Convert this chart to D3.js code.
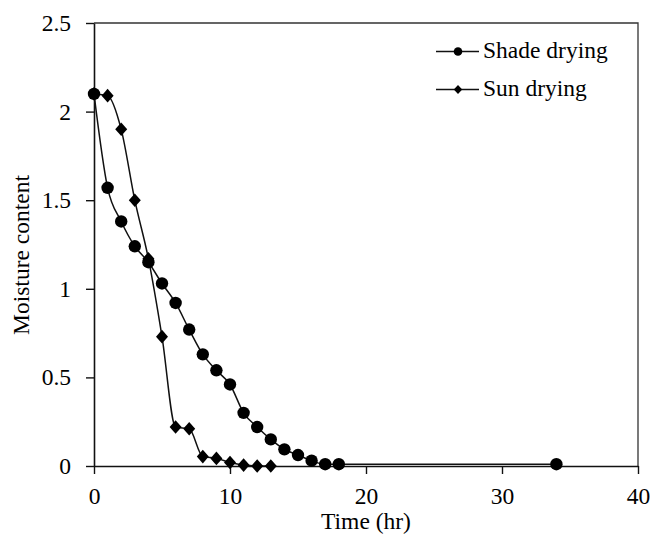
<!DOCTYPE html>
<html>
<head>
<meta charset="utf-8">
<script src="https://cdn.jsdelivr.net/npm/d3@7"></script>
<style>
  html, body { margin: 0; padding: 0; background: #fff; }
  svg { display: block; }
  text { font-family: "Liberation Serif", "Times New Roman", serif; fill: #000; }
</style>
</head>
<body>
<svg id="chart" width="652" height="534"></svg>
<script>
// ---- data ----
const shadeTime = [0, 1, 2, 3, 4, 5, 6, 7, 8, 9, 10, 11, 12, 13, 14, 15, 16, 17, 18, 34];
const shadeMoisture = [2.10, 1.57, 1.38, 1.24, 1.15, 1.03, 0.92, 0.77, 0.63, 0.54, 0.46, 0.30, 0.22, 0.15, 0.094, 0.062, 0.03, 0.01, 0.01, 0.01];
const sunTime = [0, 1, 2, 3, 4, 5, 6, 7, 8, 9, 10, 11, 12, 13];
const sunMoisture = [2.10, 2.09, 1.90, 1.50, 1.17, 0.73, 0.22, 0.21, 0.053, 0.043, 0.02, 0.005, 0.0, 0.0];
const seriesNames = ["Shade drying", "Sun drying"];
const xTicks = [0, 10, 20, 30, 40];
const yTicks = [0, 0.5, 1, 1.5, 2, 2.5];
const xLabel = "Time (hr)";
const yLabel = "Moisture content";

(function () {
// ---- layout ----
const svg = d3.select("#chart");
const mLeft = 94, mRight = 638, mTop = 23, mBottom = 466;
const x = d3.scaleLinear().domain([0, 40]).range([mLeft, mRight]);
const y = d3.scaleLinear().domain([0, 2.5]).range([mBottom, mTop]);
const fontSize = 23.5;

// border (top & right)
svg.append("path")
  .attr("d", `M${mLeft},${mTop}H${mRight}V${mBottom}`)
  .attr("fill", "none").attr("stroke", "#333").attr("stroke-width", 1.3);

// axes
const xAxis = d3.axisBottom(x).tickValues(xTicks).tickSize(8).tickSizeOuter(0).tickPadding(13)
  .tickFormat(d3.format("d"));
const yAxis = d3.axisLeft(y).tickValues(yTicks).tickSize(8).tickSizeOuter(0).tickPadding(15)
  .tickFormat(d => String(d));

const gx = svg.append("g").attr("transform", `translate(0,${mBottom})`).call(xAxis);
const gy = svg.append("g").attr("transform", `translate(${mLeft},0)`).call(yAxis);
[gx, gy].forEach(g => {
  g.select(".domain").attr("stroke", "#111").attr("stroke-width", 1.6);
  g.selectAll(".tick line").attr("stroke", "#111").attr("stroke-width", 1.4);
  g.selectAll(".tick text")
    .style("font-family", '"Liberation Serif", "Times New Roman", serif')
    .style("font-size", fontSize + "px").attr("fill", "#000");
});

// axis titles
svg.append("text").attr("x", (mLeft + mRight) / 2).attr("y", 529)
  .attr("text-anchor", "middle").style("font-size", fontSize + "px").text(xLabel);
svg.append("text").attr("transform", "translate(29,255) rotate(-90)")
  .attr("text-anchor", "middle").style("font-size", fontSize + "px").text(yLabel);

// series
const line = d3.line().x(d => x(d[0])).y(d => y(d[1])).curve(d3.curveMonotoneX);
const shadeData = shadeTime.map((t, i) => [t, shadeMoisture[i]]);
const sunData = sunTime.map((t, i) => [t, sunMoisture[i]]);

const diamond = (cx, cy, w, h) => `M${cx},${cy - h}L${cx + w},${cy}L${cx},${cy + h}L${cx - w},${cy}Z`;

svg.append("path").datum(sunData).attr("d", line)
  .attr("fill", "none").attr("stroke", "#111").attr("stroke-width", 1.5);
svg.append("path").datum(shadeData).attr("d", line)
  .attr("fill", "none").attr("stroke", "#111").attr("stroke-width", 1.5);

svg.append("g").selectAll("path").data(sunData).join("path")
  .attr("d", d => diamond(x(d[0]), y(d[1]), 6, 6.8)).attr("fill", "#000");
svg.append("g").selectAll("circle").data(shadeData).join("circle")
  .attr("cx", d => x(d[0])).attr("cy", d => y(d[1])).attr("r", 6.2).attr("fill", "#000");

// legend
const lg = svg.append("g");
const legendRows = [{ name: seriesNames[0], type: "circle", y: 51.5 }, { name: seriesNames[1], type: "diamond", y: 89.5 }];
legendRows.forEach(r => {
  lg.append("line").attr("x1", 436).attr("x2", 479).attr("y1", r.y).attr("y2", r.y)
    .attr("stroke", "#111").attr("stroke-width", 1.6);
  if (r.type === "circle") {
    lg.append("circle").attr("cx", 458).attr("cy", r.y).attr("r", 4.3).attr("fill", "#000");
  } else {
    lg.append("path").attr("d", diamond(458, r.y, 4.2, 4.6)).attr("fill", "#000");
  }
  lg.append("text").attr("x", 483).attr("y", r.y + 6.5).style("font-size", fontSize + "px").text(r.name);
});
})();
</script>
</body>
</html>
